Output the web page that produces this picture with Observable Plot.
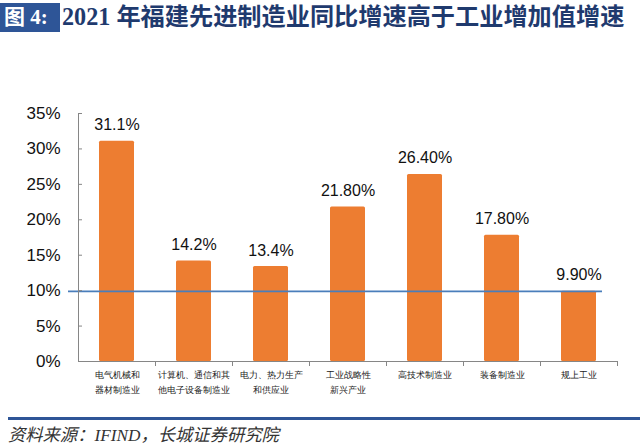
<!DOCTYPE html>
<html><head><meta charset="utf-8">
<script src="https://cdn.jsdelivr.net/npm/d3@7"></script>
<script src="https://cdn.jsdelivr.net/npm/@observablehq/plot@0.6"></script>
<style>
body{margin:0;background:#fff;width:640px;height:446px;overflow:hidden;font-family:"Liberation Sans",Arial,sans-serif;}
#title{position:relative;height:40px;}
#tag{position:absolute;left:0;top:3px;width:60px;height:29px;background:#2E5597;color:#fff;font:bold 21px "Liberation Serif","Noto Sans CJK SC",serif;line-height:29px;padding-left:4px;box-sizing:border-box;}
#ttl{position:absolute;left:62px;top:2px;color:#1F3A6E;font:bold 24.2px "Liberation Serif","Noto Sans CJK SC",serif;line-height:30px;white-space:nowrap;}
#chart{height:370px;}
#foot{position:relative;height:36px;}
#rule{position:absolute;left:8px;right:0;top:7px;height:3px;background:#2E5597;}
#src{position:absolute;left:8px;top:11px;font:italic 17.3px "Liberation Serif","Noto Sans CJK SC",serif;color:#333;white-space:nowrap;}
</style></head>
<body>
<div id="title"><div id="tag">图 4:</div><div id="ttl">2021 年福建先进制造业同比增速高于工业增加值增速</div></div>
<div id="chart"></div>
<div id="foot"><div id="rule"></div><div id="src">资料来源：IFIND，长城证券研究院</div></div>
<script>
const categories = ["电气机械和\n器材制造业","计算机、通信和其\n他电子设备制造业","电力、热力生产\n和供应业","工业战略性\n新兴产业","高技术制造业","装备制造业","规上工业"];
const values = [31.1, 14.2, 13.4, 21.8, 26.4, 17.8, 9.9];
const valueLabels = ["31.1%","14.2%","13.4%","21.80%","26.40%","17.80%","9.90%"];
const baseline = 9.9;
const yTicks = [0,5,10,15,20,25,30,35];

const data = categories.map((c,i)=>({cat:c, v:values[i], lab:valueLabels[i]}));
const W = 640, H = 370, ML = 78, MR = 23;
const step = (W - ML - MR) / categories.length;

const plot = Plot.plot({
  width: W, height: H,
  marginLeft: ML, marginRight: MR, marginTop: 73, marginBottom: 49,
  style: {fontFamily: '"Liberation Sans",Arial,sans-serif', background: "#fff"},
  x: {domain: categories, paddingInner: 0.545, paddingOuter: 0.2725},
  y: {domain: [0,35]},
  marks: [
    Plot.barY(data, {x:"cat", y:"v", fill:"#ED7D31", rx:1.5}),
    Plot.ruleY([baseline], {stroke:"#4A7EBB", strokeWidth:1.6, insetLeft:-10, insetRight:15}),
    Plot.text(data, {x:"cat", y:"v", text:"lab", dy:-11, lineAnchor:"bottom", fontSize:16, fill:"#111"}),
    Plot.ruleY([0], {stroke:"#868686"}),
    Plot.frame({anchor:"left", stroke:"#868686"}),
    Plot.ruleX(categories, {x:d=>d, dx:step/2, y1:0, y2:0, insetTop:0, insetBottom:-5, stroke:"#868686"}),
    Plot.axisY({ticks:yTicks, tickFormat:d=>d+"%", tickSize:-4, tickPadding:22, fontSize:17, stroke:"#868686", fill:"#111", label:null}),
    Plot.axisX({tickSize:0, tickPadding:6, fontSize:9.1, lineHeight:1.65, fill:"#222", label:null})
  ]
});
document.getElementById("chart").appendChild(plot);
</script>
</body></html>
